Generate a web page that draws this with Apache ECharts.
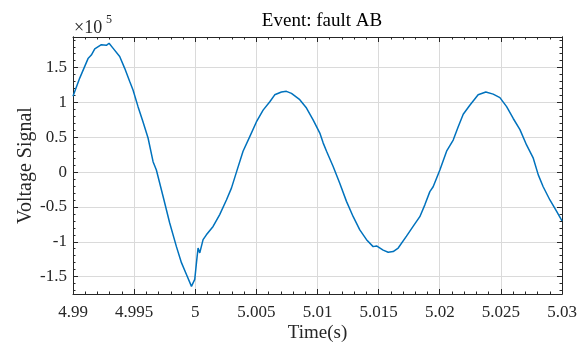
<!DOCTYPE html>
<html>
<head>
<meta charset="utf-8">
<script src="https://cdn.jsdelivr.net/npm/echarts@6/dist/echarts.min.js"></script>
<style>html,body{margin:0;padding:0;background:#fff}#c{width:587px;height:342px}</style>
</head>
<body>
<div id="c"></div>
<script>
// Time (s)
const timeS = [
  4.99000, 4.99055, 4.99123, 4.99150, 4.99178, 4.99232, 4.99273, 4.99295, 4.99327, 4.99382,
  4.99423, 4.99464, 4.99491, 4.99532, 4.99573, 4.99614, 4.99655, 4.99682, 4.99737, 4.99791,
  4.99846, 4.99887, 4.99928, 4.99969, 4.99982, 4.99996, 5.00010, 5.00023, 5.00037, 5.00045,
  5.00064, 5.00091, 5.00146, 5.00200, 5.00255, 5.00296, 5.00337, 5.00391, 5.00446, 5.00500,
  5.00555, 5.00610, 5.00650, 5.00705, 5.00746, 5.00787, 5.00855, 5.00910, 5.00964, 5.01019,
  5.01046, 5.01074, 5.01128, 5.01182, 5.01237, 5.01292, 5.01346, 5.01401, 5.01455, 5.01483,
  5.01537, 5.01578, 5.01619, 5.01660, 5.01728, 5.01782, 5.01837, 5.01878, 5.01919, 5.01946,
  5.02001, 5.02056, 5.02110, 5.02151, 5.02192, 5.02246, 5.02314, 5.02377, 5.02437, 5.02492,
  5.02547, 5.02601, 5.02656, 5.02710, 5.02765, 5.02806, 5.02846, 5.02901, 5.02955, 5.03000
];
// Voltage signal in units of 10^5
const voltageE5 = [
  1.09, 1.35, 1.63, 1.68, 1.77, 1.83, 1.82, 1.85, 1.78, 1.66,
  1.49, 1.30, 1.18, 0.94, 0.72, 0.49, 0.15, 0.03, -0.35, -0.73,
  -1.07, -1.30, -1.47, -1.64, -1.66, -1.54, -1.30, -1.09, -1.16, -1.14,
  -0.97, -0.90, -0.78, -0.61, -0.40, -0.23, 0.00, 0.30, 0.51, 0.72,
  0.89, 1.01, 1.11, 1.15, 1.16, 1.13, 1.04, 0.92, 0.75, 0.56,
  0.42, 0.30, 0.08, -0.16, -0.42, -0.64, -0.83, -0.97, -1.07, -1.06,
  -1.12, -1.15, -1.14, -1.09, -0.92, -0.78, -0.64, -0.47, -0.28, -0.21,
  0.03, 0.30, 0.46, 0.65, 0.83, 0.96, 1.11, 1.15, 1.12, 1.07,
  0.94, 0.77, 0.61, 0.39, 0.20, -0.04, -0.21, -0.40, -0.56, -0.70
];
const yTicks = [-1.5, -1, -0.5, 0, 0.5, 1, 1.5];
const yMinorTicks = [-1.7, -1.6, -1.4, -1.3, -1.2, -1.1, -0.9, -0.8, -0.7, -0.6, -0.4, -0.3, -0.2, -0.1,
  0.1, 0.2, 0.3, 0.4, 0.6, 0.7, 0.8, 0.9, 1.1, 1.2, 1.3, 1.4, 1.6, 1.7, 1.8, 1.9];
const titleText = 'Event: fault AB';
const xName = 'Time(s)';
const yName = 'Voltage Signal';

const FONT = '"Liberation Serif", "Times New Roman", serif';
const TXT = '#262626';
const GRIDC = '#dadada';
const X_MIN = 4.99, X_MAX = 5.03, Y_MIN = -1.75, Y_MAX = 1.94;

const data = timeS.map((t, i) => [t, voltageE5[i]]);

function xAxisBase(pos, showLabel) {
  return {
    type: 'value', position: pos, min: X_MIN, max: X_MAX, interval: 0.005,
    axisLine: { show: true, onZero: false, lineStyle: { color: TXT, width: 1 } },
    axisTick: { show: true, inside: true, length: 5, lineStyle: { color: TXT, width: 1 } },
    minorTick: { show: true, splitNumber: 5, length: 2.5, lineStyle: { color: TXT, width: 1 } },
    splitLine: { show: showLabel, lineStyle: { color: GRIDC, width: 1 } },
    axisLabel: {
      show: showLabel, margin: 10, fontFamily: FONT, fontSize: 17, color: TXT,
      formatter: v => String(parseFloat(v.toFixed(3)))
    }
  };
}
function yAxisBase(pos, values, len, showLabel, showSplit) {
  return {
    type: 'value', position: pos, min: Y_MIN, max: Y_MAX,
    axisLine: { show: true, onZero: false, lineStyle: { color: TXT, width: 1 } },
    axisTick: { show: true, inside: true, length: len, customValues: values, lineStyle: { color: TXT, width: 1 } },
    splitLine: { show: showSplit, lineStyle: { color: GRIDC, width: 1 } },
    axisLabel: {
      show: showLabel, customValues: values, margin: 6, fontFamily: FONT, fontSize: 17, color: TXT,
      formatter: v => String(parseFloat(v.toFixed(2)))
    }
  };
}

const xMain = xAxisBase('bottom', true);
xMain.name = xName;
xMain.nameLocation = 'middle';
xMain.nameGap = 30;
xMain.nameMoveOverlap = false;
xMain.nameTextStyle = { fontFamily: FONT, fontSize: 19, color: TXT };

const yMain = yAxisBase('left', yTicks, 5, true, true);
yMain.name = yName;
yMain.nameLocation = 'middle';
yMain.nameGap = 37;
yMain.nameMoveOverlap = false;
yMain.nameTextStyle = { fontFamily: FONT, fontSize: 20, color: TXT };

const chart = echarts.init(document.getElementById('c'), null, { renderer: 'canvas' });
chart.setOption({
  animation: false,
  backgroundColor: '#ffffff',
  title: {
    text: titleText, left: 317, top: 7, textAlign: 'center',
    textStyle: { fontFamily: FONT, fontSize: 19, fontWeight: 'normal', color: '#000' }
  },
  grid: { left: 73, right: 25, top: 37, bottom: 48, containLabel: false, outerBoundsMode: 'none' },
  xAxis: [xMain, xAxisBase('top', false)],
  yAxis: [
    yMain,
    yAxisBase('left', yMinorTicks, 2.5, false, false),
    yAxisBase('right', yTicks, 5, false, false),
    yAxisBase('right', yMinorTicks, 2.5, false, false)
  ],
  graphic: [
    { type: 'text', left: 74, top: 19, style: { text: '×10', fontFamily: FONT, fontSize: 18, fill: TXT } },
    { type: 'text', left: 106, top: 14, style: { text: '5', fontFamily: FONT, fontSize: 12, fill: TXT } }
  ],
  series: [{
    type: 'line', xAxisIndex: 0, yAxisIndex: 0, data: data,
    showSymbol: false, symbol: 'none', smooth: false,
    lineStyle: { color: '#0072BD', width: 1.5 }, itemStyle: { color: '#0072BD' }
  }]
});
</script>
</body>
</html>
